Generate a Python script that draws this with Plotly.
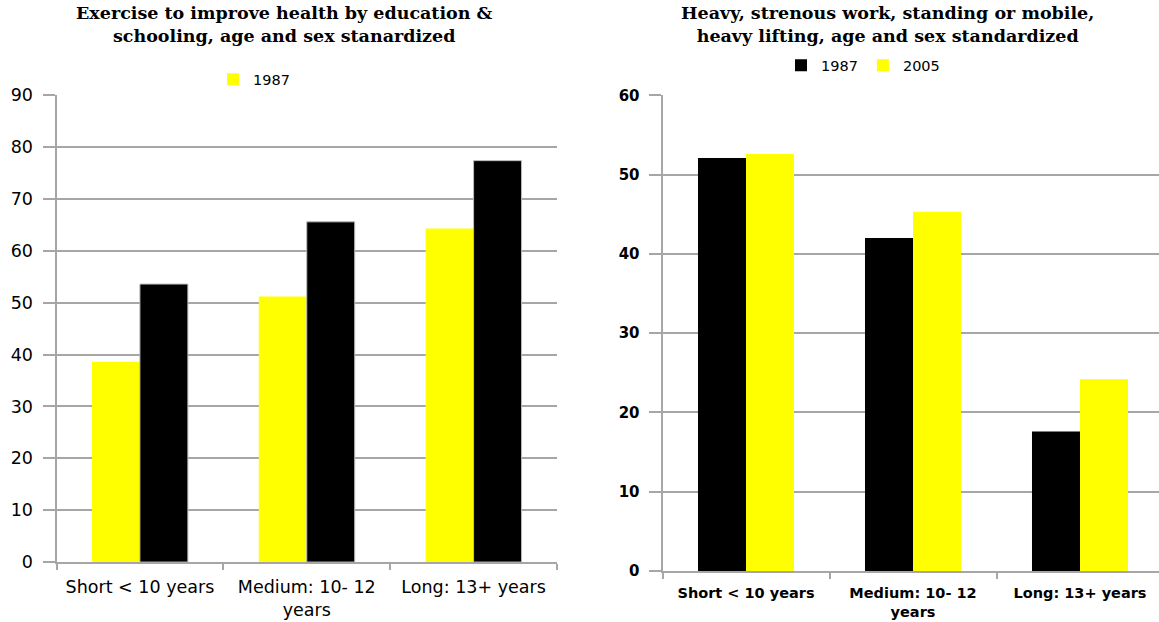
import plotly.graph_objects as go

# Education categories (shared by both panels)
categories = ["Short < 10 years", "Medium: 10- 12<br>years", "Long: 13+ years"]

# Left panel: exercise to improve health
exercise_1987 = [38.6, 51.2, 64.3]
exercise_2005 = [53.6, 65.6, 77.4]

# Right panel: heavy, strenuous work
heavy_1987 = [52.1, 42.0, 17.6]
heavy_2005 = [52.6, 45.3, 24.2]

left_ticks = [0, 10, 20, 30, 40, 50, 60, 70, 80, 90]
right_ticks = [0, 10, 20, 30, 40, 50, 60]

left_title = ("Exercise to improve health by education &amp;<br>"
              "schooling, age and sex stanardized")
right_title = ("Heavy, strenous work, standing or mobile,<br>"
               "heavy lifting, age and sex standardized")

W, H = 1159, 622
YELLOW = "#FFFF00"
BLACK = "#000000"
GRID = "#a6a6a6"

fig = go.Figure()

fig.add_trace(go.Bar(x=categories, y=exercise_1987, name="1987",
                     marker=dict(color=YELLOW, line=dict(width=0)),
                     xaxis="x", yaxis="y", legend="legend"))
fig.add_trace(go.Bar(x=categories, y=exercise_2005, name="2005", showlegend=False,
                     marker=dict(color=BLACK, line=dict(color="#bbbbbb", width=1)),
                     xaxis="x", yaxis="y", legend="legend"))

fig.add_trace(go.Bar(x=categories, y=heavy_1987, name="1987",
                     marker=dict(color=BLACK, line=dict(width=0)),
                     xaxis="x2", yaxis="y2", legend="legend2"))
fig.add_trace(go.Bar(x=categories, y=heavy_2005, name="2005",
                     marker=dict(color=YELLOW, line=dict(width=0)),
                     xaxis="x2", yaxis="y2", legend="legend2"))


# pixel -> paper helpers (vertical positions account for the page's
# top offset and slight vertical scaling on screen)
def px(x):
    return x / W


def py(y):
    y_fig = (y - 8.3) / 0.9725
    return (H - y_fig) / H


common_x = dict(type="category", showgrid=False, showline=True, linecolor=GRID,
                linewidth=2, ticks="outside", tickson="boundaries", ticklen=6,
                tickcolor=GRID, tickwidth=2, zeroline=False,
                ticklabelstandoff=8)
common_y = dict(showgrid=True, gridcolor=GRID, gridwidth=2, showline=True,
                linecolor=GRID, linewidth=2, ticks="outside", ticklen=12,
                tickcolor=GRID, tickwidth=2, zeroline=False,
                ticklabelstandoff=6)

annotations = []
for title, cx in ((left_title, 284), (right_title, 887)):
    annotations.append(dict(
        text="<b>" + title + "</b>", x=px(cx), y=py(23),
        xref="paper", yref="paper", xanchor="center", yanchor="middle",
        showarrow=False,
        font=dict(family="DejaVu Serif", size=17.5, color="#000")))

fig.update_layout(
    width=W, height=H,
    margin=dict(l=0, r=0, t=0, b=0),
    paper_bgcolor="white", plot_bgcolor="white",
    barmode="group", bargap=0.425, bargroupgap=0,
    xaxis=dict(domain=[px(56.5), px(557)], range=[-0.5, 2.5],
               tickfont=dict(family="DejaVu Sans", size=17.5, color="#000"),
               anchor="y", **common_x),
    yaxis=dict(domain=[py(563), py(94)], range=[0, 90], tickvals=left_ticks,
               tickfont=dict(family="DejaVu Sans", size=17.5, color="#000"),
               anchor="x", **common_y),
    xaxis2=dict(domain=[px(662.5), 1.0], range=[-0.5, 2.5 - 4.5 / 167],
                tickfont=dict(family="DejaVu Sans", size=14.5, color="#000",
                              weight="bold"),
                anchor="y2", **common_x),
    yaxis2=dict(domain=[py(572), py(94)], range=[0, 60], tickvals=right_ticks,
                tickfont=dict(family="DejaVu Sans", size=15, color="#000",
                              weight="bold"),
                anchor="x2", **common_y),
    legend=dict(x=px(254), y=py(78), xanchor="center", yanchor="middle",
                orientation="h", bgcolor="rgba(0,0,0,0)",
                font=dict(family="DejaVu Sans", size=14.5, color="#000"),
                itemwidth=30),
    legend2=dict(x=px(863), y=py(64), xanchor="center", yanchor="middle",
                 orientation="h", bgcolor="rgba(0,0,0,0)",
                 font=dict(family="DejaVu Sans", size=14.5, color="#000"),
                 itemwidth=30, traceorder="normal"),
    annotations=annotations,
)

fig.write_html("out.html")
